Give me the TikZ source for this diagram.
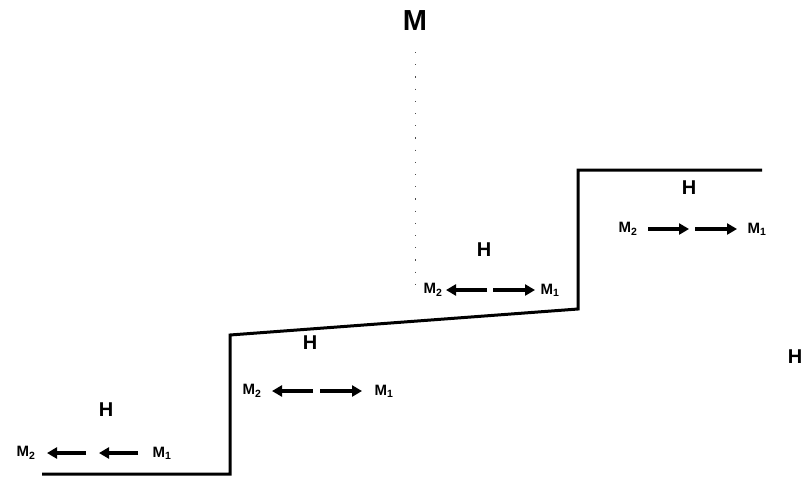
\documentclass[tikz,border=0pt]{standalone}
\usepackage{fontspec}
\setmainfont{Liberation Sans}
\usetikzlibrary{arrows.meta}
\begin{document}
\begin{tikzpicture}[x=1pt,y=-1pt,
  stepline/.style={line width=3pt,line join=miter},
  hlab/.style={font=\fontsize{20}{20}\selectfont\bfseries,inner sep=0pt},
  mlab/.style={font=\fontsize{15}{15}\selectfont\bfseries,inner sep=0pt},
  arr/.style={line width=3.6pt,-{Triangle[length=10pt,width=11pt]}},
  axis/.style={black!70,line width=1pt,dash pattern=on 1.2pt off 11pt}]
\useasboundingbox (0,0) rectangle (802,479);
% step profile
\coordinate (s0) at (42,474);
\coordinate (s1) at (230,474);
\coordinate (s2) at (230,335);
\coordinate (s3) at (578,309);
\coordinate (s4) at (578,170);
\coordinate (s5) at (762,170);
\draw[stepline] (s0) -- (s1) -- (s2) -- (s3) -- (s4) -- (s5);
% axis
\node[font=\fontsize{29}{29}\selectfont\bfseries,inner sep=0pt] (M) at (415,21) {M};
\coordinate (axtop) at (415,52);
\coordinate (axend) at (415,292);
\draw[axis] (axtop) -- (axend);
\node[hlab] (Hr) at (795,357) {H};
% region 1
\node[hlab] (H1) at (106,410) {H};
\node[mlab] (a2) at (26,453) {M\textsubscript{2}};
\node[mlab] (a1) at (162,453) {M\textsubscript{1}};
\coordinate (a1s) at (138,453); \coordinate (a1e) at (99,453);
\coordinate (a2s) at (86,453); \coordinate (a2e) at (47,453);
\draw[arr] (a1s) -- (a1e);
\draw[arr] (a2s) -- (a2e);
% region 2
\node[hlab] (H2) at (310,343) {H};
\node[mlab] (b2) at (252,391) {M\textsubscript{2}};
\node[mlab] (b1) at (384,391) {M\textsubscript{1}};
\coordinate (b0l) at (313,391); \coordinate (b0r) at (320,391);
\coordinate (bl) at (272,391); \coordinate (br) at (362,391);
\draw[arr] (b0l) -- (bl);
\draw[arr] (b0r) -- (br);
% region 3
\node[hlab] (H3) at (484,250) {H};
\node[mlab] (c2) at (433,290) {M\textsubscript{2}};
\node[mlab] (c1) at (550,290) {M\textsubscript{1}};
\coordinate (c0l) at (487,290); \coordinate (c0r) at (493,290);
\coordinate (cl) at (446,290); \coordinate (cr) at (535,290);
\draw[arr] (c0l) -- (cl);
\draw[arr] (c0r) -- (cr);
% region 4
\node[hlab] (H4) at (689,188) {H};
\node[mlab] (d2) at (628,229) {M\textsubscript{2}};
\node[mlab] (d1) at (757,229) {M\textsubscript{1}};
\coordinate (d1s) at (648,229); \coordinate (d1e) at (689,229);
\coordinate (d2s) at (695,229); \coordinate (d2e) at (737,229);
\draw[arr] (d1s) -- (d1e);
\draw[arr] (d2s) -- (d2e);
\end{tikzpicture}
\end{document}
